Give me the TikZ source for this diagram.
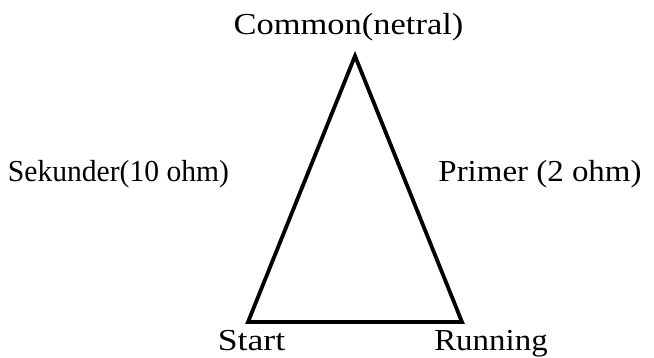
\documentclass[tikz,border=0pt]{standalone}
\usepackage{fontspec}
\setmainfont{Liberation Serif}
\newcommand{\sx}[2]{\scalebox{#1}[1]{#2}}
\begin{document}
\begin{tikzpicture}[x=1pt,y=-1pt,
  lbl/.style={inner sep=0pt,anchor=base,font=\fontsize{30.5}{36}\selectfont},
  edge/.style={line width=3.8pt,line join=miter}]
\useasboundingbox (0,0) rectangle (654,358);
\coordinate (top) at (355,56);
\coordinate (bl) at (248,322);
\coordinate (br) at (462,322);
\draw[edge] (top) -- (bl) -- (br) -- cycle;
\node[lbl] (common) at (348.5,35) {\sx{1.13}{Common(netral)}};
\node[lbl] (sek) at (118.5,182) {\sx{0.97}{Sekunder(10 ohm)}};
\node[lbl] (prim) at (540,182) {\sx{1.08}{Primer (2 ohm)}};
\node[lbl] (start) at (251.5,351) {\sx{1.17}{Start}};
\node[lbl] (run) at (491,351) {\sx{1.08}{Running}};
\end{tikzpicture}
\end{document}
